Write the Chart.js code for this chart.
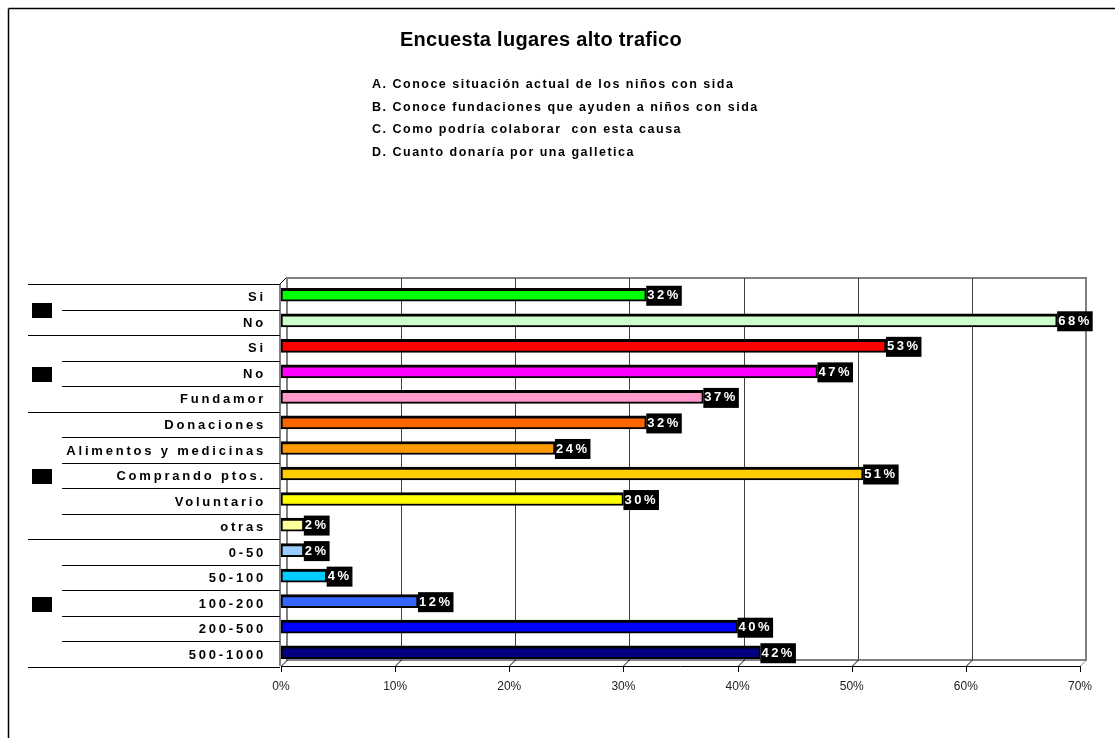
<!DOCTYPE html>
<html>
<head>
<meta charset="utf-8">
<script src="https://cdn.jsdelivr.net/npm/chart.js@4"></script>
<style>
    body { margin: 0; background: #fff; }
    #wrap { position: relative; width: 1115px; height: 738px; overflow: hidden; }
    #title {
        position: absolute; left: 291px; top: 28px; width: 500px;
        text-align: center; font: bold 20px "Liberation Sans", Arial, sans-serif; letter-spacing: 0.3px; color: #000;
    }
    #questions {
        position: absolute; left: 372px; top: 73px;
        font: bold 12.5px "Liberation Sans", Arial, sans-serif; letter-spacing: 1.5px;
        line-height: 22.7px; color: #000; white-space: nowrap;
    }
</style>
</head>
<body>
<div id="wrap">
    <canvas id="chart" width="1115" height="738"></canvas>
    <div id="title"></div>
    <div id="questions"></div>
</div>
<script>
    const chartTitle = "Encuesta lugares alto trafico";
    const questions = [
        "A. Conoce situación actual de los niños con sida",
        "B. Conoce fundaciones que ayuden a niños con sida",
        "C. Como podría colaborar  con esta causa",
        "D. Cuanto donaría por una galletica"
    ];
    const categories = [
        "Si", "No", "Si", "No", "Fundamor", "Donaciones", "Alimentos y medicinas",
        "Comprando ptos.", "Voluntario", "otras", "0-50", "50-100", "100-200", "200-500", "500-1000"
    ];
    const percentages = [32, 68, 53, 47, 37, 32, 24, 51, 30, 2, 2, 4, 12, 40, 42];
    const barColors = [
        "#00ff00", "#ccffcc", "#ff0000", "#ff00ff", "#ff99cc", "#ff6600", "#ff9900",
        "#ffcc00", "#ffff00", "#ffff99", "#99ccff", "#00ccff", "#3366ff", "#0000ff", "#000080"
    ];
    // rows per question A, B, C, D
    const groupSizes = [2, 3, 5, 5];
    const xTicks = [0, 10, 20, 30, 40, 50, 60, 70];

    document.getElementById("title").textContent = chartTitle;
    document.getElementById("questions").innerHTML = questions.map((q) => `<div>${q.replace(/  /g, " \u00a0")}</div>`).join("");

    const labelFont = 'bold 13px "Liberation Sans", Arial, sans-serif';
    const depth = 6;

    const surveyDecor = {
        id: "surveyDecor",
        beforeDatasetsDraw(chart) {
            const { ctx, chartArea: a, scales: { x } } = chart;
            const x0 = x.getPixelForValue(xTicks[0]);
            const xMax = x.getPixelForValue(xTicks[xTicks.length - 1]);
            const wallTop = a.top - 4;
            const front = a.bottom + 1;
            const line = (x1, y1, x2, y2) => {
                ctx.beginPath();
                ctx.moveTo(x1, y1);
                ctx.lineTo(x2, y2);
                ctx.stroke();
            };
            ctx.save();

            // outer frame
            ctx.strokeStyle = "#000";
            ctx.lineWidth = 1.5;
            line(8.5, 8.5, 8.5, 738);
            line(8.5, 8.5, 1115, 8.5);

            // back wall
            ctx.strokeStyle = "#808080";
            ctx.lineWidth = 2;
            ctx.strokeRect(x0 + depth, wallTop, xMax - x0, front - depth - wallTop);

            // grid lines on back wall + floor diagonals
            ctx.lineWidth = 1;
            xTicks.forEach((v) => {
                const px = Math.round(x.getPixelForValue(v)) + 0.5;
                ctx.strokeStyle = "#404040";
                if (v !== xTicks[0] && v !== xTicks[xTicks.length - 1]) {
                    line(px + depth, wallTop, px + depth, front - depth);
                }
                ctx.strokeStyle = v === xTicks[xTicks.length - 1] ? "#808080" : "#000";
                line(px, front, px + depth, front - depth);
                ctx.strokeStyle = "#000";
                line(px, front, px, front + 6);
            });

            // floor front edge
            ctx.strokeStyle = "#000";
            line(x0, front + 0.5, xMax, front + 0.5);

            // left wall
            line(x0 - 1, wallTop + depth, x0 - 1, front);
            line(x0 - 1, wallTop + depth, x0 - 1 + depth, wallTop);
            ctx.restore();
        },
        afterDatasetsDraw(chart) {
            const { ctx } = chart;
            const meta = chart.getDatasetMeta(0);
            ctx.save();
            ctx.font = labelFont;
            ctx.letterSpacing = "2.5px";
            ctx.textBaseline = "middle";
            ctx.textAlign = "left";
            meta.data.forEach((bar, i) => {
                const text = `${percentages[i]}%`;
                const w = ctx.measureText(text).width + 2;
                const left = bar.x;
                ctx.fillStyle = "#000";
                ctx.fillRect(left, bar.y - 9, w, 20);
                ctx.fillStyle = "#fff";
                ctx.fillText(text, left + 1, bar.y + 1);
            });
            ctx.restore();
        },
        afterDraw(chart) {
            const { ctx, chartArea: a, scales: { y } } = chart;
            const step = y.getPixelForValue(1) - y.getPixelForValue(0);
            const boundary = (k) => Math.round(y.getPixelForValue(0) - step / 2 + k * step + 2) + 0.5;
            const rightEdge = a.left - 1;
            ctx.save();

            // category labels
            ctx.font = labelFont;
            ctx.letterSpacing = "2.8px";
            ctx.textAlign = "right";
            ctx.textBaseline = "middle";
            ctx.fillStyle = "#000";
            categories.forEach((c, i) => {
                ctx.fillText(c, 266, y.getPixelForValue(i) + 3);
            });

            // table lines and group markers
            ctx.strokeStyle = "#000";
            ctx.lineWidth = 1;
            const groupEdges = [0];
            groupSizes.forEach((n) => groupEdges.push(groupEdges[groupEdges.length - 1] + n));
            for (let k = 0; k <= categories.length; k += 1) {
                const full = groupEdges.includes(k);
                const by = boundary(k);
                ctx.beginPath();
                ctx.moveTo(full ? 28 : 62, by);
                ctx.lineTo(rightEdge, by);
                ctx.stroke();
            }
            for (let g = 0; g < groupSizes.length; g += 1) {
                const mid = (boundary(groupEdges[g]) + boundary(groupEdges[g + 1])) / 2;
                ctx.fillRect(32, Math.round(mid - 7), 20, 15);
            }
            ctx.restore();
        }
    };

    new Chart(document.getElementById("chart"), {
        type: "bar",
        data: {
            labels: categories,
            datasets: [{
                data: percentages,
                backgroundColor: barColors,
                borderColor: "#000",
                borderWidth: { top: 3, bottom: 2, left: 2, right: 2 },
                borderSkipped: false,
                barThickness: 13
            }]
        },
        options: {
            indexAxis: "y",
            responsive: false,
            animation: false,
            events: [],
            layout: { padding: { top: 282, left: 281, right: 35, bottom: 0 } },
            plugins: {
                legend: { display: false },
                tooltip: { enabled: false }
            },
            scales: {
                x: {
                    min: xTicks[0],
                    max: xTicks[xTicks.length - 1],
                    afterBuildTicks: (scale) => {
                        scale.ticks = xTicks.map((v) => ({ value: v }));
                    },
                    afterFit: (scale) => { scale.height = 73; },
                    grid: { display: false, drawTicks: false },
                    border: { display: false },
                    ticks: {
                        padding: 14,
                        maxRotation: 0,
                        autoSkip: false,
                        color: "#222",
                        font: { family: '"Liberation Sans Narrow", "Liberation Sans", Arial', size: 12 },
                        callback: (v) => `${v}%`
                    }
                },
                y: { display: false }
            }
        },
        plugins: [surveyDecor]
    });
</script>
</body>
</html>
